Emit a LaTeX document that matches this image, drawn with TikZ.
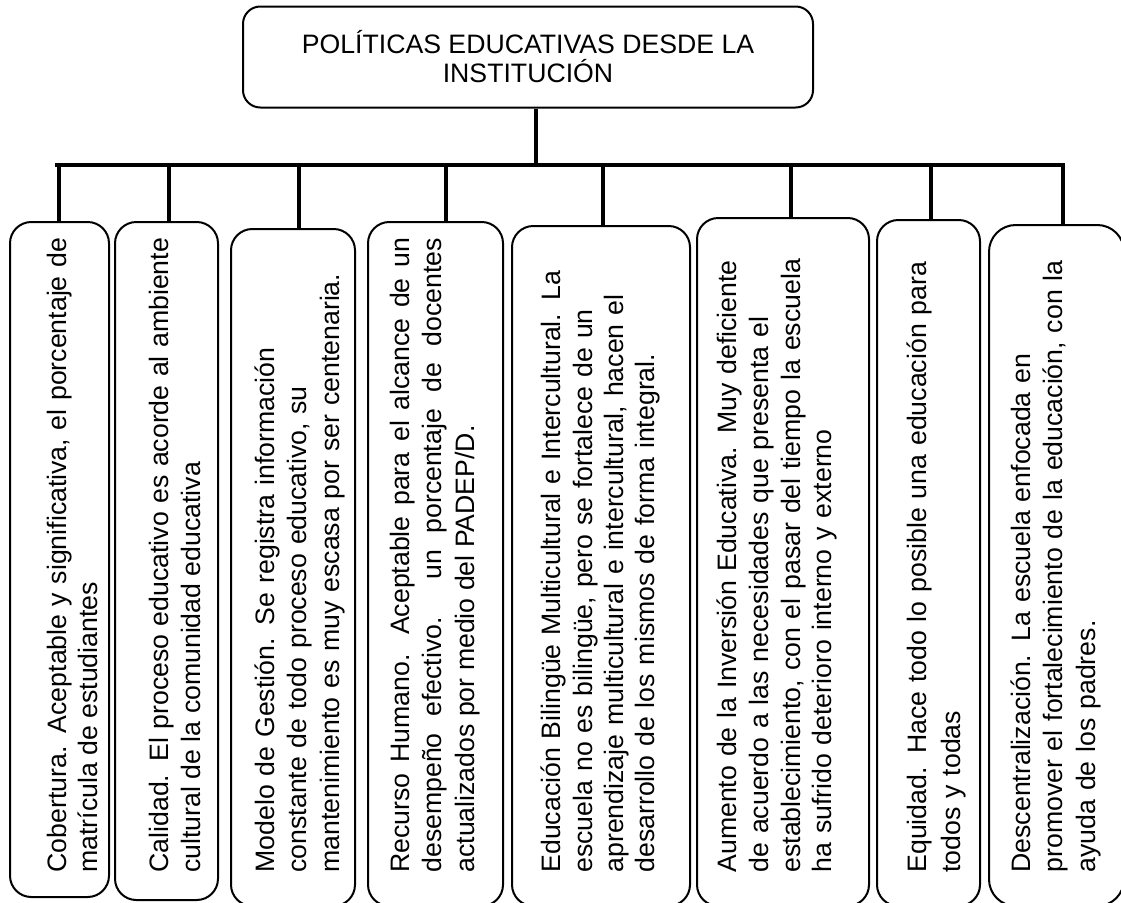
\documentclass[tikz,border=0pt]{standalone}
\usepackage{fontspec}
\setmainfont{Liberation Sans}
\usetikzlibrary{fit}

\tikzset{
	caja/.style={draw, line width=1.5pt, rounded corners=16pt, inner sep=0pt},
	conector/.style={line width=3pt},
	texto/.style={rotate=90, anchor=north west, inner sep=0pt, text width=476pt, align=left},
	tam/.style={font=\fontsize{20pt}{#1}\selectfont}}
\tikzset{every picture/.style={line width=0.75pt}}

\begin{document}
\begin{tikzpicture}[x=0.75pt,y=0.75pt,yscale=-1,xscale=1]
	\useasboundingbox (0,0) rectangle (1121,903);

	%Rounded Rect [id:titulo] 
	\node[caja, rounded corners=13pt, minimum width=427.5pt, minimum height=75.75pt, align=center, tam=21.75pt] (politicas) at (528,57) {POLÍTICAS EDUCATIVAS DESDE LA\\INSTITUCIÓN};

	%Rounded Rect [id:cajas] 
	\node[caja, fit={(10,222) (109,897)}] (cob) {};
	\node[caja, fit={(115,222) (218,900)}] (cal) {};
	\node[caja, fit={(231,229) (355,906)}] (mod) {};
	\node[caja, fit={(368,222) (503,906)}] (rec) {};
	\node[caja, fit={(512,226) (690,906)}] (edu) {};
	\node[caja, fit={(697,218) (869,906)}] (inv) {};
	\node[caja, fit={(877,220) (980,906)}] (equ) {};
	\node[caja, rounded corners=20pt, fit={(989,225) (1124,906)}] (des) {};

	%Straight Lines [id:tronco] 
	\coordinate (tronco) at (536,165);
	\draw[conector] (politicas.south -| tronco) -- (tronco);
	%Straight Lines [id:barra] 
	\coordinate (barra-i) at (55,165);
	\coordinate (barra-d) at (1063,165);
	\draw[conector] (barra-i) -- (barra-d) -- (barra-d |- des.north);
	%Straight Lines [id:bajadas] 
	\foreach \x/\n in {59/cob,169/cal,299/mod,446/rec,603/edu,791/inv,931/equ}{
		\coordinate (b-\n) at (\x,165);
		\draw[conector] (b-\n) -- (b-\n |- \n.north);
	}

	% Text Node
	\node[texto, align=justify, tam=23.25pt] (tcob) at (44.3,873) {\strut Cobertura. Aceptable y significativa, el porcentaje de\linebreak matrícula de estudiantes};
	% Text Node
	\node[texto, align=justify, tam=24pt] (tcal) at (145.6,873) {\strut Calidad. El proceso educativo es acorde al ambiente\linebreak cultural de la comunidad educativa};
	% Text Node
	\node[texto, tam=24.375pt] (tmod) at (251,873) {\strut Modelo de Gestión. Se registra información\\constante de todo proceso educativo, su\\mantenimiento es muy escasa por ser centenaria.};
	% Text Node
	\node[texto, align=justify, tam=24.4pt] (trec) at (386,873) {\strut Recurso Humano. Aceptable para el alcance de un\linebreak desempeño efectivo. un porcentaje de docentes\linebreak actualizados por medio del PADEP/D.};
	% Text Node
	\node[texto, tam=23.5pt] (tedu) at (538.5,873) {\strut Educación Bilingüe Multicultural e Intercultural. La\\escuela no es bilingüe, pero se fortalece de un\\aprendizaje multicultural e intercultural, hacen el\\desarrollo de los mismos de forma integral.};
	% Text Node
	\node[texto, tam=23.75pt] (tinv) at (714,873) {\strut Aumento de la Inversión Educativa. Muy deficiente\\de acuerdo a las necesidades que presenta el\\establecimiento, con el pasar del tiempo la escuela\\ha sufrido deterioro interno y externo};
	% Text Node
	\node[texto, tam=25pt] (tequ) at (903,873) {\strut Equidad. Hace todo lo posible una educación para\\todos y todas};
	% Text Node
	\node[texto, tam=24.4pt] (tdes) at (1007,873) {\strut Descentralización. La escuela enfocada en\\promover el fortalecimiento de la educación, con la\\ayuda de los padres.};

\end{tikzpicture}
\end{document}
